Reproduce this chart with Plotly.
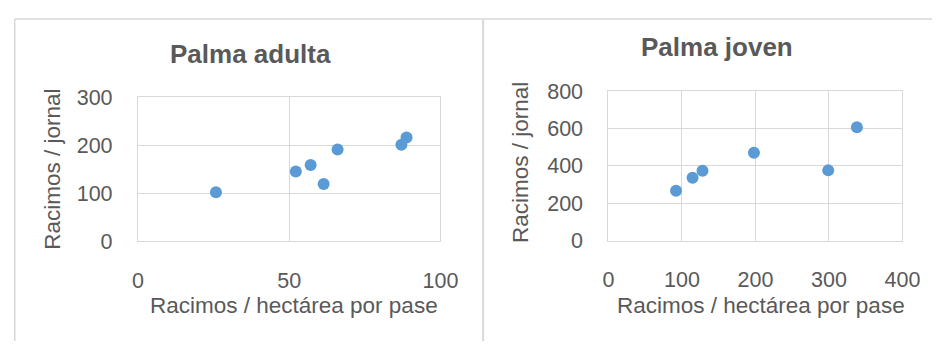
import plotly.graph_objects as go

# Data
adulta_x = [25.8, 52.2, 57.1, 61.4, 66.0, 87.1, 88.8]
adulta_y = [102, 145, 159, 119, 191, 201, 216]
joven_x = [92, 114.5, 128, 198, 299, 338]
joven_y = [267, 337, 374, 470, 376, 607]

adulta_title = "Palma adulta"
joven_title = "Palma joven"
x_title = "Racimos / hectárea por pase"
y_title = "Racimos / jornal"

W, H = 950, 354
FONT = "Liberation Sans"
GRAY = "#595959"
GRID = "#d9d9d9"
BLUE = "#5b9bd5"


def px(x):
    return x / W


def py(y):
    return 1 - y / H


fig = go.Figure()
fig.add_trace(go.Scatter(x=adulta_x, y=adulta_y, mode="markers",
                         marker=dict(color=BLUE, size=12), xaxis="x", yaxis="y",
                         showlegend=False, hoverinfo="x+y"))
fig.add_trace(go.Scatter(x=joven_x, y=joven_y, mode="markers",
                         marker=dict(color=BLUE, size=12), xaxis="x2", yaxis="y2",
                         showlegend=False, hoverinfo="x+y"))

axis_common = dict(showgrid=True, gridcolor=GRID, gridwidth=1,
                   showline=True, linecolor=GRID, linewidth=1, mirror=True,
                   zeroline=False, ticks="", ticklabelstandoff=20,
                   tickfont=dict(family=FONT, size=21.5, color=GRAY),
                   fixedrange=True)

fig.update_layout(
    width=W, height=H,
    margin=dict(l=0, r=0, t=0, b=0),
    paper_bgcolor="white", plot_bgcolor="white",
    xaxis=dict(domain=[px(135.3), px(445.7)], range=[0, 100], tickvals=[0, 50, 100],
               anchor="y", **axis_common),
    yaxis=dict(domain=[py(246.7), py(92.7)], range=[0, 300], tickvals=[0, 100, 200, 300],
               anchor="x", **axis_common),
    xaxis2=dict(domain=[px(618), px(919.7)], range=[0, 400], tickvals=[0, 100, 200, 300, 400],
                anchor="y2", **axis_common),
    yaxis2=dict(domain=[py(246.3), py(86)], range=[0, 800], tickvals=[0, 200, 400, 600, 800],
                anchor="x2", **axis_common),
)

ann_font = dict(family=FONT, size=22.5, color=GRAY)
title_font = dict(family=FONT, size=26, color=GRAY)
annotations = [
    dict(text="<b>" + adulta_title + "</b>", x=px(251), y=py(46), font=title_font),
    dict(text="<b>" + joven_title + "</b>", x=px(729), y=py(39), font=title_font),
    dict(text=x_title, x=px(295.5), y=py(316), font=ann_font),
    dict(text=x_title, x=px(775), y=py(316), font=ann_font),
    dict(text=y_title, x=px(47), y=py(169.5), font=ann_font, textangle=-90),
    dict(text=y_title, x=px(528.5), y=py(163), font=ann_font, textangle=-90),
]
for a in annotations:
    a.update(xref="paper", yref="paper", xanchor="center", yanchor="middle", showarrow=False)
fig.update_layout(annotations=annotations)

# Chart frames
line = dict(color=GRID, width=1.5)
shapes = [
    dict(type="line", x0=px(9), x1=px(950), y0=py(8.5), y1=py(8.5), line=line),
    dict(type="line", x0=px(9), x1=px(9), y0=py(8.5), y1=py(354), line=line),
    dict(type="line", x0=px(489.5), x1=px(489.5), y0=py(8.5), y1=py(354),
         line=dict(color=GRID, width=2)),
]
for s in shapes:
    s.update(xref="paper", yref="paper")
fig.update_layout(shapes=shapes)

fig.write_html("out.html")
